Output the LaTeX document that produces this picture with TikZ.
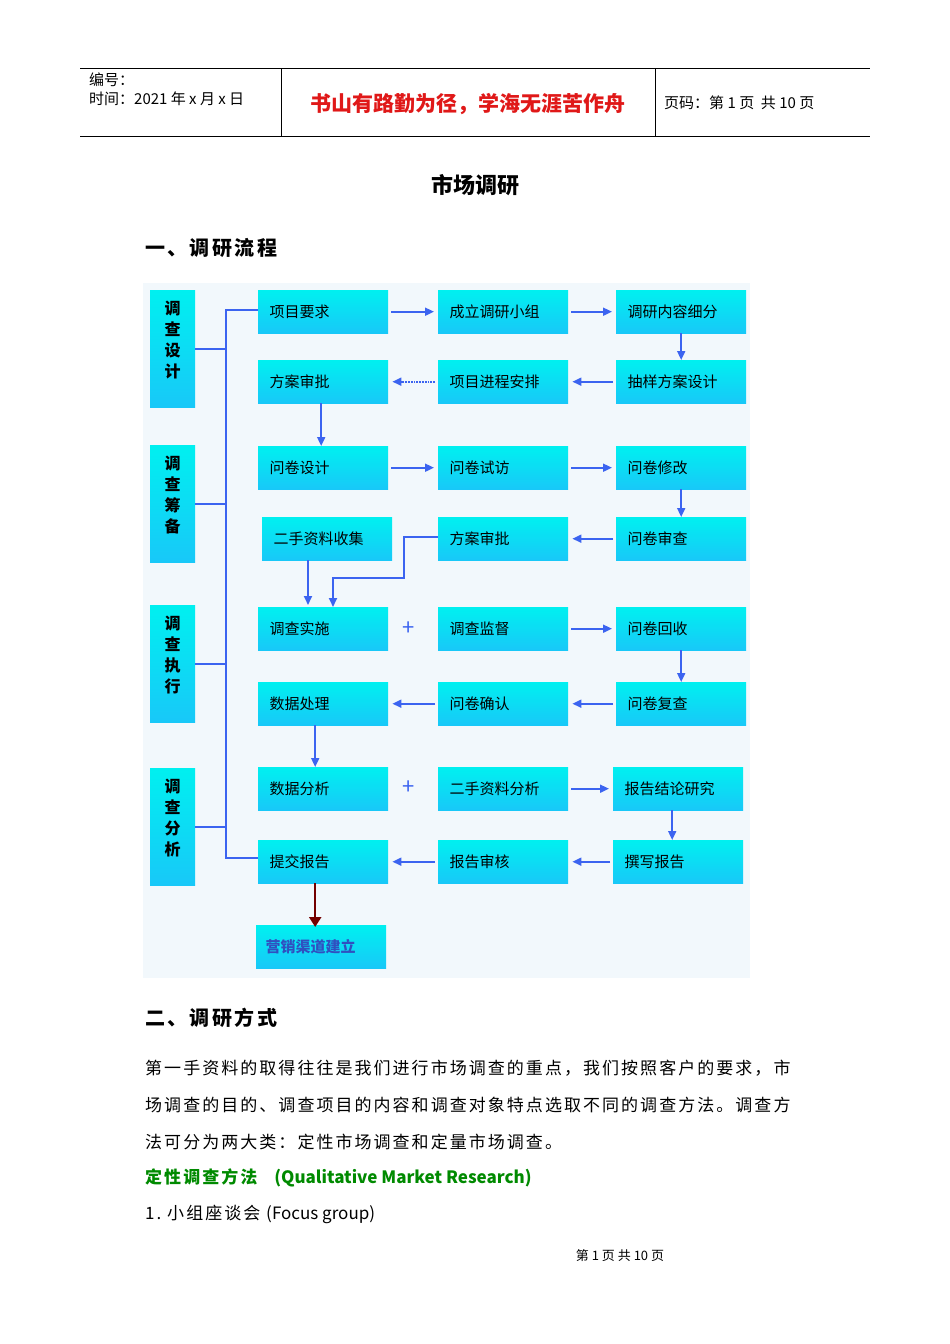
\documentclass[tikz,border=0pt]{standalone}
\usepackage{fontspec}
\setmainfont{Noto Sans CJK SC}
\newfontfamily\spaced[LetterSpace=12]{Noto Sans CJK SC}
\usetikzlibrary{arrows.meta}
\definecolor{bxtop}{HTML}{00F0F0}
\definecolor{bxbot}{HTML}{18C8F8}
\definecolor{ln}{HTML}{3C64F0}
\definecolor{bg}{HTML}{F2F8FC}
\definecolor{hred}{HTML}{E01818}
\definecolor{grn}{HTML}{008A00}
\tikzset{
 bx/.style={top color=bxtop,bottom color=bxbot,draw=none,minimum width=130pt,minimum height=43pt,anchor=north west,inner sep=0pt},
 lbl/.style={anchor=west,font=\fontsize{15}{15}\selectfont},
 fl/.style={ln,line width=1.8pt,-{Triangle[length=9pt,width=8pt]}},
 pl/.style={ln,line width=1.8pt},
 txt/.style={anchor=west,inner sep=0pt,font=\spaced\fontsize{17}{17}\selectfont}
}
\newcommand{\bxn}[4]{\node[bx] (#1) at (#2,#3) {}; \node[lbl] at ([xshift=8pt]#1.west) {#4};}
\begin{document}
\begin{tikzpicture}[x=1pt,y=-1pt]
\useasboundingbox (0,0) rectangle (950,1344);
\fill[white] (0,0) rectangle (950,1344);
% header
\draw[line width=0.8pt] (80,68) -- (870,68) (80,136) -- (870,136) (281,68) -- (281,136) (655,68) -- (655,136);
\node[anchor=west,inner sep=0pt,font=\fontsize{15}{15}\selectfont] at (89,80) {编号：};
\node[anchor=west,inner sep=0pt,font=\fontsize{15}{15}\selectfont] at (89,99) {时间：2021 年 x 月 x 日};
\node[anchor=center,inner sep=0pt,text=hred,font=\bfseries\fontsize{21}{21}\selectfont] at (468,104) {书山有路勤为径，学海无涯苦作舟};
\node[anchor=west,inner sep=0pt,font=\fontsize{15}{15}\selectfont] at (664,103) {页码：第 1 页\ \ 共 10 页};
\node[inner sep=0pt,font=\bfseries\fontsize{22}{22}\selectfont] at (475,185) {市场调研};
\node[txt,font=\spaced\bfseries\fontsize{20}{20}\selectfont] at (145,248) {一、调研流程};
% diagram background
\fill[bg] (143,283) rectangle (750,978);
% left boxes
\foreach \n/\t/\y in {L1/{调\\查\\设\\计}/290, L2/{调\\查\\筹\\备}/445, L3/{调\\查\\执\\行}/605, L4/{调\\查\\分\\析}/768}{
 \node[bx,minimum width=45pt,minimum height=117pt] (\n) at (150,\y) {};
 \node[anchor=north,align=center,font=\bfseries\fontsize{16}{21}\selectfont] at ([yshift=-7pt]\n.north) {\t};
}
% main boxes
\bxn{a1}{258}{290}{项目要求}
\bxn{a2}{438}{290}{成立调研小组}
\bxn{a3}{616}{290}{调研内容细分}
\bxn{b1}{258}{360}{方案审批}
\bxn{b2}{438}{360}{项目进程安排}
\bxn{b3}{616}{360}{抽样方案设计}
\bxn{c1}{258}{446}{问卷设计}
\bxn{c2}{438}{446}{问卷试访}
\bxn{c3}{616}{446}{问卷修改}
\bxn{d1}{262}{517}{二手资料收集}
\bxn{d2}{438}{517}{方案审批}
\bxn{d3}{616}{517}{问卷审查}
\bxn{e1}{258}{607}{调查实施}
\bxn{e2}{438}{607}{调查监督}
\bxn{e3}{616}{607}{问卷回收}
\bxn{f1}{258}{682}{数据处理}
\bxn{f2}{438}{682}{问卷确认}
\bxn{f3}{616}{682}{问卷复查}
\bxn{g1}{258}{767}{数据分析}
\bxn{g2}{438}{767}{二手资料分析}
\bxn{g3}{613}{767}{报告结论研究}
\bxn{h1}{258}{840}{提交报告}
\bxn{h2}{438}{840}{报告审核}
\bxn{h3}{613}{840}{撰写报告}
\node[bx] (i1) at (256,925) {};
\node[lbl,text=ln!80!black,font=\bfseries\fontsize{15}{15}\selectfont] at ([xshift=6pt]i1.west) {营销渠道建立};
% left spine
\coordinate (sp1) at (226,310);
\coordinate (sp2) at (226,858);
\draw[pl] (a1.west |- sp1) -- (sp1) -- (sp2) -- (h1.west |- sp2);
\foreach \n in {L1,L2,L3,L4}{\draw[pl] (\n.east) -- (\n.east -| sp1);}
% flows
\draw[fl] ([xshift=3pt]a1.east) -- ([xshift=-4pt]a2.west);
\draw[fl] ([xshift=3pt]a2.east) -- ([xshift=-4pt]a3.west);
\draw[fl] (a3.south) -- (b3.north);
\draw[fl] ([xshift=-3pt]b3.west) -- ([xshift=4pt]b2.east);
\draw[fl,densely dotted] ([xshift=-3pt]b2.west) -- ([xshift=4pt]b1.east);
\draw[fl] ([xshift=-2pt]b1.south) -- ([xshift=-2pt]c1.north);
\draw[fl] ([xshift=3pt]c1.east) -- ([xshift=-4pt]c2.west);
\draw[fl] ([xshift=3pt]c2.east) -- ([xshift=-4pt]c3.west);
\draw[fl] (c3.south) -- (d3.north);
\draw[fl] ([xshift=-3pt]d3.west) -- ([xshift=4pt]d2.east);
\coordinate (k1) at (404,537);
\coordinate (k2) at (404,578);
\coordinate (k3) at (333,578);
\draw[fl] (d2.west |- k1) -- (k1) -- (k2) -- (k3) -- (k3 |- e1.north);
\draw[fl] (308,560) -- (308,605);
\node[text=ln,font=\fontsize{22}{22}\selectfont] (p1) at (409,629) {+};
\draw[fl] ([xshift=3pt]e2.east) -- ([xshift=-4pt]e3.west);
\draw[fl] (e3.south) -- (f3.north);
\draw[fl] ([xshift=-3pt]f3.west) -- ([xshift=4pt]f2.east);
\draw[fl] ([xshift=-3pt]f2.west) -- ([xshift=4pt]f1.east);
\draw[fl] ([xshift=-8pt]f1.south) -- ([xshift=-8pt]g1.north);
\node[text=ln,font=\fontsize{22}{22}\selectfont] (p2) at (409,788) {+};
\draw[fl] ([xshift=3pt]g2.east) -- ([xshift=-4pt]g3.west);
\draw[fl] ([xshift=-6pt]g3.south) -- ([xshift=-6pt]h3.north);
\draw[fl] ([xshift=-3pt]h3.west) -- ([xshift=4pt]h2.east);
\draw[fl] ([xshift=-3pt]h2.west) -- ([xshift=4pt]h1.east);
\draw[line width=2.2pt,red!45!black,-{Triangle[length=10pt,width=12pt]}] ([xshift=-8pt]h1.south) -- ([xshift=-8pt,yshift=-2pt]h1.south |- i1.north);
% text below
\node[txt,font=\spaced\bfseries\fontsize{20}{20}\selectfont] at (145,1018) {二、调研方式};
\node[txt] at (145,1068) {第一手资料的取得往往是我们进行市场调查的重点，我们按照客户的要求，市};
\node[txt] at (145,1105) {场调查的目的、调查项目的内容和调查对象特点选取不同的调查方法。调查方};
\node[txt] at (145,1142) {法可分为两大类：定性市场调查和定量市场调查。};
\node[txt,text=grn,font=\bfseries\fontsize{17}{17}\selectfont] at (145,1178) {{\spaced 定性调查方法}\quad (Qualitative Market Research)};
\node[txt] at (145,1214) {1.\ 小组座谈会 {\normalfont(Focus group)}};
\node[inner sep=0pt,font=\fontsize{13}{13}\selectfont] at (620,1256) {第 1 页 共 10 页};
\end{tikzpicture}
\end{document}
